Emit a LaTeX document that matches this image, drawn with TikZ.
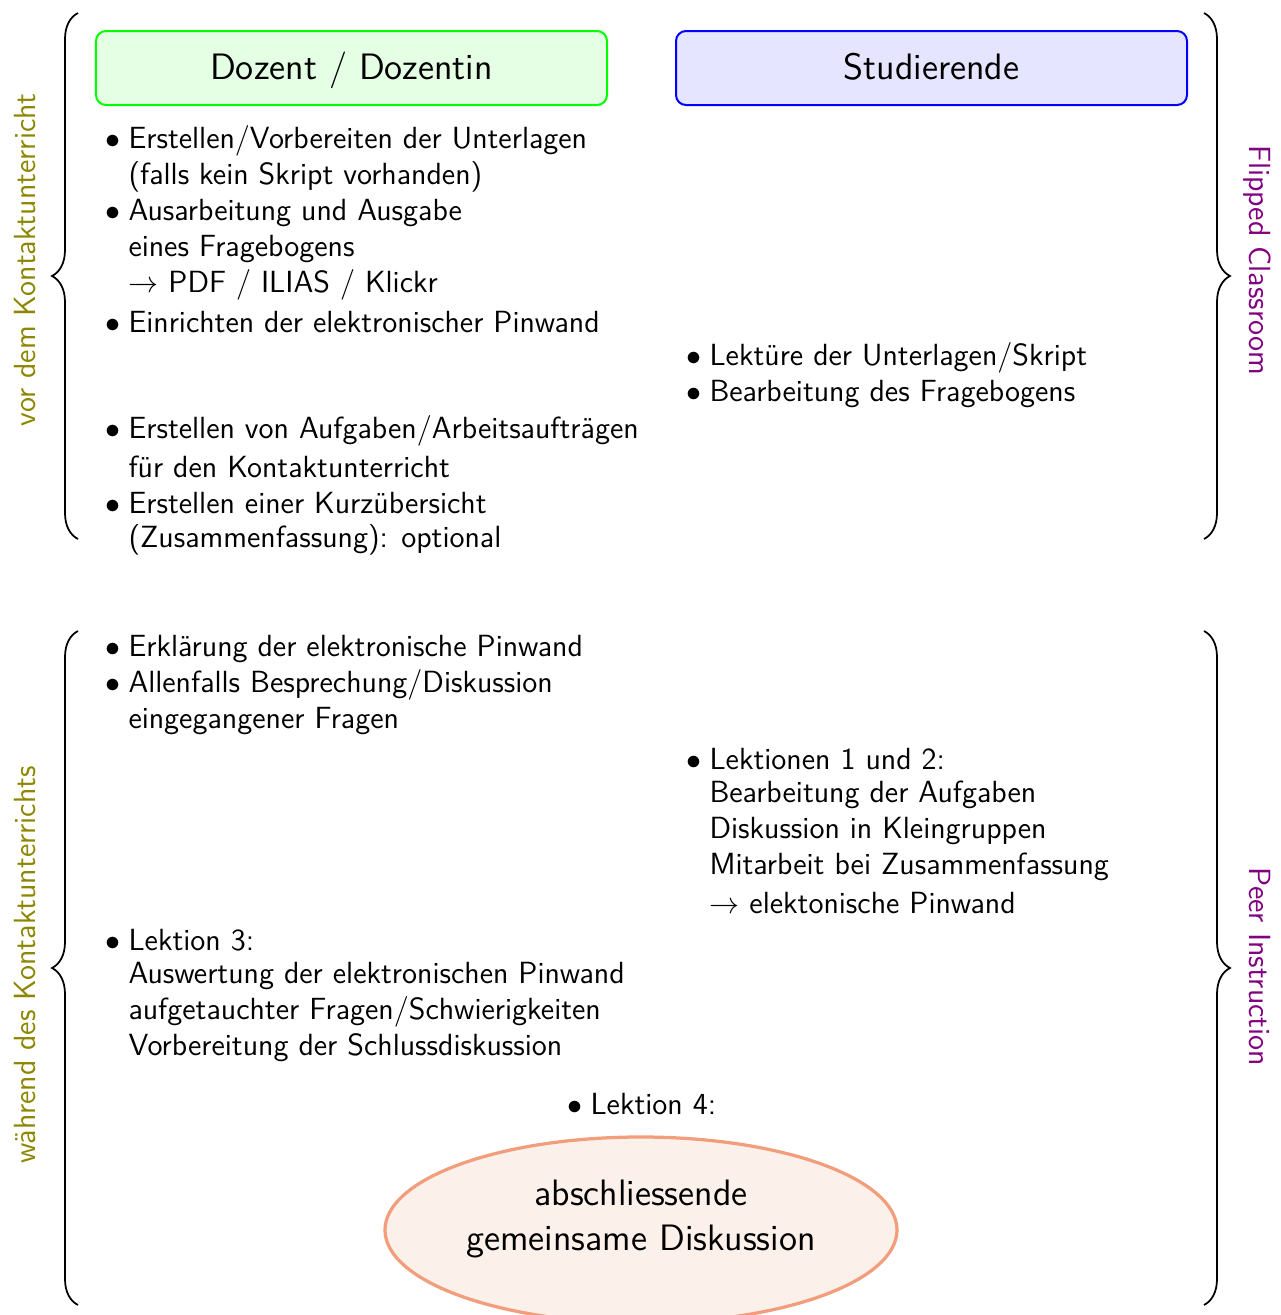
\documentclass[tikz,border=0pt]{standalone}
\usetikzlibrary{decorations.pathreplacing,shapes.geometric}
\definecolor{ellborder}{RGB}{242,158,124}
\definecolor{ellfill}{RGB}{252,241,234}
\newcommand{\itm}{\llap{$\bullet$\hspace{3.4pt}}}
\begin{document}
\begin{tikzpicture}[x=0.4pt,y=-0.4pt,
  txt/.style={font=\sffamily\fontsize{12.25}{14.4}\selectfont, align=left, inner sep=0pt, anchor=base west},
  head/.style={rectangle, rounded corners=4pt, thick, minimum width=204.4pt, minimum height=29.6pt,
    font=\sffamily\fontsize{14.7}{18}\selectfont, inner sep=0pt, text height=0.95em, text depth=0pt},
  brc/.style={decorate, decoration={brace, amplitude=10.4pt}, line width=0.7pt},
  sidelbl/.style={font=\sffamily\fontsize{12.25}{14.4}\selectfont, inner sep=0pt, anchor=base}]
\useasboundingbox (0,0) rectangle (1281,1315);

% header boxes
\node[head, draw=green, fill=green!10] (doz) at (351.5,68) {Dozent / Dozentin};
\node[head, draw=blue, fill=blue!10] (stud) at (931.5,68) {Studierende};

% braces
\coordinate (lt1) at (78,539);
\coordinate (lt2) at (78,13);
\coordinate (rt1) at (1204,13);
\coordinate (rt2) at (1204,539);
\coordinate (lb1) at (78,1305);
\coordinate (lb2) at (78,631);
\coordinate (rb1) at (1204,631);
\coordinate (rb2) at (1204,1305);
\draw[brc] (lt1) -- (lt2);
\draw[brc] (rt1) -- (rt2);
\draw[brc] (lb1) -- (lb2);
\draw[brc] (rb1) -- (rb2);

% side labels
\node[sidelbl, olive, rotate=90] (vor) at (35,260) {vor dem Kontaktunterricht};
\node[sidelbl, olive, rotate=90] (waehr) at (35,965) {während des Kontaktunterrichts};
\node[sidelbl, violet, rotate=-90] (flip) at (1249,260) {Flipped Classroom};
\node[sidelbl, violet, rotate=-90] (peer) at (1249,967) {Peer Instruction};

% text blocks (anchor = baseline of the last line)
\node[txt] (d1) at (128,332) {\itm Erstellen/Vorbereiten der Unterlagen\\
(falls kein Skript vorhanden)\\
\itm Ausarbeitung und Ausgabe\\
eines Fragebogens\\
$\rightarrow$ PDF / ILIAS / Klickr\\[1.6pt]
\itm Einrichten der elektronischer Pinwand};

\node[txt] (d2) at (128,547) {\itm Erstellen von Aufgaben/Arbeitsaufträgen\\[1.2pt]
für den Kontaktunterricht\\
\itm Erstellen einer Kurzübersicht\\[-0.8pt]
(Zusammenfassung): optional};

\node[txt] (s1) at (709,401) {\itm Lektüre der Unterlagen/Skript\\
\itm Bearbeitung des Fragebogens};

\node[txt] (d3) at (128,728) {\itm Erklärung der elektronische Pinwand\\
\itm Allenfalls Besprechung/Diskussion\\
eingegangener Fragen};

\node[txt] (s2) at (709,913) {\itm Lektionen 1 und 2:\\[-1.2pt]
Bearbeitung der Aufgaben\\
Diskussion in Kleingruppen\\
Mitarbeit bei Zusammenfassung\\[1.2pt]
$\rightarrow$ elektonische Pinwand};

\node[txt] (d4) at (128,1055) {\itm Lektion 3:\\[-1.2pt]
Auswertung der elektronischen Pinwand\\
aufgetauchter Fragen/Schwierigkeiten\\
Vorbereitung der Schlussdiskussion};

\node[txt] (l4) at (590,1114) {\itm Lektion 4:};

% ellipse
\node[ellipse, draw=ellborder, fill=ellfill, line width=1.3pt, minimum width=204.8pt,
  minimum height=74.4pt, inner sep=0pt] (ell) at (641,1230) {};
\node[align=center, inner sep=0pt, font=\sffamily\fontsize{14.7}{18}\selectfont]
  (elltxt) at (641,1219) {abschliessende\\gemeinsame Diskussion};
\end{tikzpicture}
\end{document}
